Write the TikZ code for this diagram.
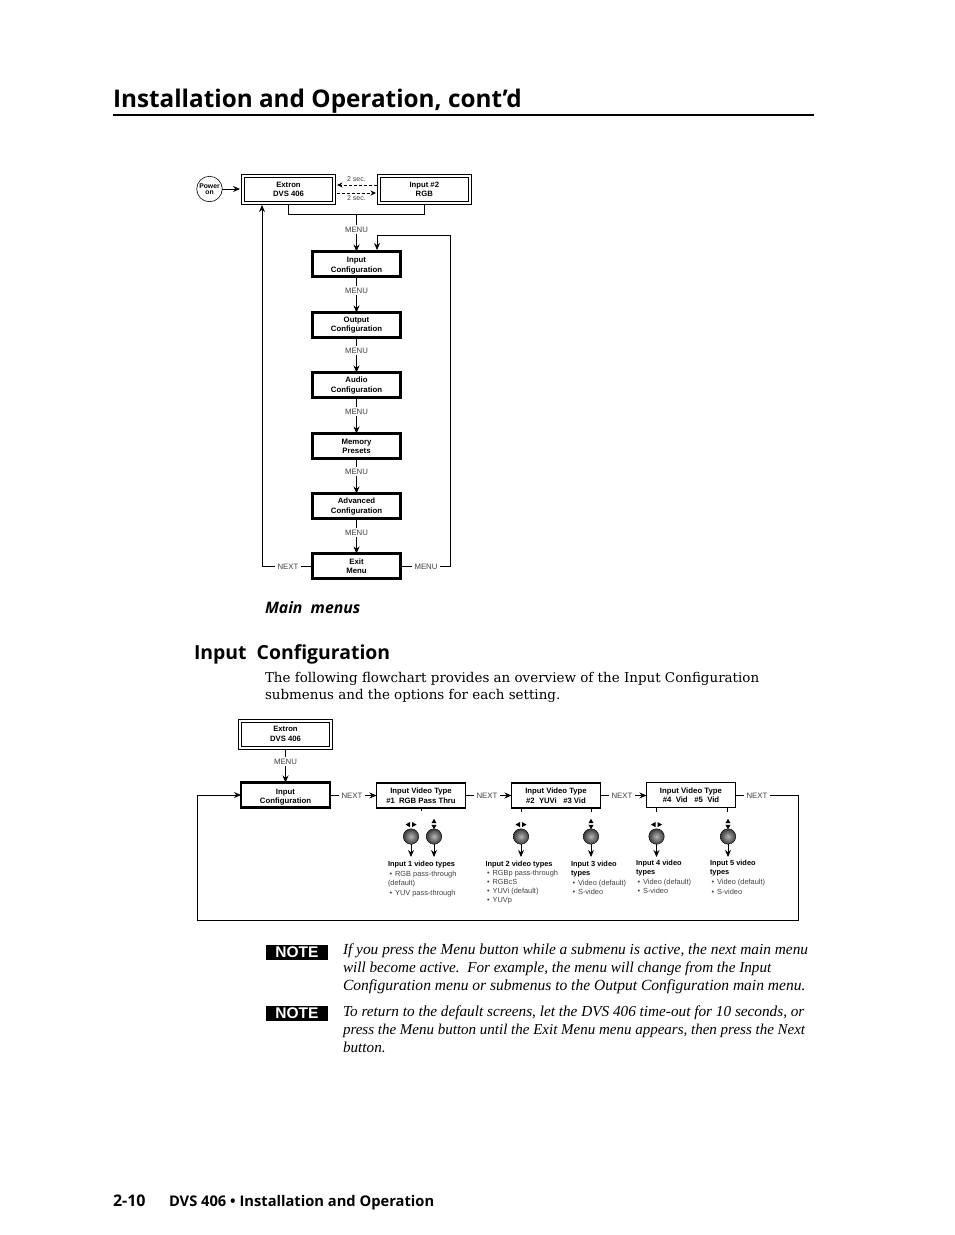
\documentclass[tikz,border=0pt]{standalone}
\usepackage{fontspec}
\setmainfont{Liberation Sans}
\newfontfamily\hfont{Open Sans}
\newfontfamily\bfontserif{DejaVu Serif}
\newfontfamily\ifontserif{Liberation Serif}
\usetikzlibrary{arrows.meta}
\definecolor{txt}{gray}{0.25}
\newcommand{\fs}[1]{\fontsize{#1pt}{#1pt}\selectfont}
\newcommand{\bul}{\hspace{1.5pt}•\hspace{3pt}}
\newcommand{\up}{\rule{0pt}{8pt}}
\tikzset{
 x=1pt,y=-1pt,
 every node/.style={inner sep=0pt,outer sep=0pt},
 line/.style={line width=0.9pt,black},
 arr/.style={line width=0.9pt,black,-{Stealth[length=7pt,width=6pt]}},
 dasharr/.style={line width=0.8pt,dash pattern=on 3pt off 2pt,-{Stealth[length=5.5pt,width=5pt]}},
 thickbox/.style={draw,line width=2.4pt,minimum width=88pt,minimum height=25pt,align=center,font=\fs{7.8}\bfseries},
 thinbox/.style={draw,line width=1.1pt,minimum width=89pt,minimum height=25pt,align=center,font=\fs{7.7}\bfseries},
 dblbox/.style={draw,line width=0.8pt,minimum width=88pt,minimum height=24pt,align=center,font=\fs{7.7}\bfseries},
 outerbox/.style={line width=0.8pt},
 lbl/.style={font=\fs{7.8},text=txt,inner sep=1.5pt,fill=white},
 sec/.style={font=\fs{7},text=txt},
 knob/.style={circle,draw=black,line width=0.4pt,minimum size=15.5pt,inner color=gray!58,outer color=gray!45!black},
 tick/.style={line width=0.9pt},
 h1/.style={anchor=base west,font=\hfont\fs{24.3}\bfseries},
 h2/.style={anchor=base west,font=\hfont\fs{19.4}\bfseries},
 body/.style={anchor=base west,font=\bfontserif\fs{13.45}},
 ital/.style={anchor=base west,font=\ifontserif\itshape\fs{#1}},
 foot/.style={anchor=base west,font=\hfont\fs{14.7}\bfseries},
 notebox/.style={fill=black,text=white,minimum width=62pt,minimum height=15pt,font=\fs{15.5}\bfseries},
 thead/.style={anchor=base west,font=\fs{7.4}\bfseries},
 titem/.style={anchor=base west,font=\fs{7.4},text=txt},
}
\begin{document}
\begin{tikzpicture}
\useasboundingbox (0,0) rectangle (954,1235);
% header
\node[h1] (title) at (113,107) {Installation and Operation, cont’d};
\coordinate (ruleL) at (113,115); \coordinate (ruleR) at (814,115);
\draw[line width=2pt] (ruleL) -- (ruleR);

% top flow
\node[circle,draw,line width=0.6pt,minimum size=25.5pt,align=center,font=\fs{6.8}\bfseries] (power) at (209.5,189) {Power\\[-0.5pt]on};
\node[dblbox] (extron) at (288.5,189.3) {Extron\\[1.6pt]DVS 406};
\draw[outerbox] ([shift={(-3,-3)}]extron.north west) rectangle ([shift={(3,3)}]extron.south east);
\node[dblbox] (input2) at (424.3,189.3) {Input \#2\\[1.6pt]RGB};
\draw[outerbox] ([shift={(-3,-3)}]input2.north west) rectangle ([shift={(3,3)}]input2.south east);
\draw[arr] (power) -- (240,189);
\coordinate (d1a) at (377,185); \coordinate (d1b) at (337,185);
\coordinate (d2a) at (336.5,193); \coordinate (d2b) at (376,193);
\draw[dasharr] (d1a) -- (d1b);
\draw[dasharr] (d2a) -- (d2b);
\node[sec] (s1) at (356.5,179.5) {2 sec.};
\node[sec] (s2) at (356.5,198) {2 sec.};
\coordinate (br) at (356.5,214);
\draw[line] (288.5,204.5) |- (424.3,214) -- (424.3,204.5);
\node[lbl] (m0) at (356.5,229.5) {MENU};
\draw[line] (br) -- (m0);
\node[thickbox] (b1) at (356.5,264) {\up Input\\[2.2pt]Configuration};
\node[thickbox] (b2) at (356.5,325) {Output\\[1pt]Configuration};
\node[thickbox] (b3) at (356.5,385) {Audio\\[2.2pt]Configuration};
\node[thickbox] (b4) at (356.5,446) {Memory\\[1pt]Presets};
\node[thickbox] (b5) at (356.5,506) {Advanced\\[2.2pt]Configuration};
\node[thickbox] (b6) at (356.5,566) {Exit\\[1pt]Menu};
\draw[arr] (m0) -- (b1);
\foreach \a/\b/\y/\n in {b1/b2/290.5/m1,b2/b3/350.5/m2,b3/b4/411.5/m3,b4/b5/471.5/m4,b5/b6/532.5/m5}{
  \node[lbl] (\n) at (356.5,\y) {MENU};
  \draw[line] (\a) -- (\n);
  \draw[arr] (\n) -- (\b);
}
\node[lbl,inner sep=3pt] (nx) at (288,566.5) {NEXT};
\node[lbl,inner sep=3pt] (mn) at (426,566.5) {MENU};
\draw[line] (b6.west|-nx) -- (nx);
\draw[arr] (nx) -| (262,205);
\draw[line] (b6.east|-mn) -- (mn);
\coordinate (loopR) at (450,235);
\draw[line] (mn) -| (loopR);
\draw[arr] (loopR) -| (377,250);

\node[anchor=base west,font=\hfont\bfseries\itshape\fs{15.8}] (mm) at (265,613) {Main\ \ menus};
\node[h2] (h) at (194,659) {Input\ \ Configuration};
\node[body] (p1) at (265,682) {The following flowchart provides an overview of the Input Configuration};
\node[body] (p2) at (265,699.5) {submenus and the options for each setting.};

% lower flow
\node[dblbox] (ex2) at (285.5,734) {Extron\\[1.6pt]DVS 406};
\draw[outerbox] ([shift={(-3,-3)}]ex2.north west) rectangle ([shift={(3,3)}]ex2.south east);
\node[lbl] (lm) at (285.5,761.5) {MENU};
\node[thickbox,minimum width=89pt] (ic) at (285.5,795) {\rule{0pt}{9pt}Input\\[1.2pt]Configuration};
\draw[line] (285.5,749) -- (lm);
\draw[arr] (lm) -- (ic);
\node[thinbox] (t1) at (421,795.5) {Input Video Type\\[1.8pt]\#1\ \ RGB Pass Thru};
\node[thinbox] (t2) at (556,795.5) {Input Video Type\\[1.8pt]\#2\ \ YUVi\ \ \ \#3 Vid};
\node[thickbox,line width=1.4pt,minimum width=89pt] (t3) at (691,795) {Input Video Type\\[1.8pt]\#4\ \ Vid\ \ \ \#5\ \ Vid};
\node[lbl,inner sep=3pt] (n1) at (352,795.5) {NEXT};
\node[lbl,inner sep=3pt] (n2) at (487,795.5) {NEXT};
\node[lbl,inner sep=3pt] (n3) at (622,795.5) {NEXT};
\node[lbl,inner sep=3pt] (n4) at (757,795.5) {NEXT};
\draw[line] (ic.east|-n1) -- (n1); \draw[arr] (n1) -- (t1.west|-n1);
\draw[line] (t1.east|-n2) -- (n2); \draw[arr] (n2) -- (t2.west|-n2);
\draw[line] (t2.east|-n3) -- (n3); \draw[arr] (n3) -- (t3.west|-n3);
\draw[line] (t3.east|-n4) -- (n4);
\coordinate (lr) at (798,920.5); \coordinate (ll) at (197,920.5);
\draw[line] (n4) -| (lr) -- (ll);
\draw[arr] (ll) |- (ic);

\foreach \name/\x in {k1/411,k2/434,k3/521,k4/591,k5/656.5,k6/728}{
  \node[knob] (\name) at (\x,836.5) {};
  \coordinate (\name d) at (\x,857);
  \draw[arr] (\name) -- (\name d);
}
\foreach \x in {411,521,656.5}{
  \fill (\x-1,822) -- (\x-1,827.2) -- (\x-5.5,824.6) -- cycle;
  \fill (\x+1,822) -- (\x+1,827.2) -- (\x+5.5,824.6) -- cycle;
}
\foreach \x in {434,591,728}{
  \fill (\x-2.6,823.2) -- (\x+2.6,823.2) -- (\x,818.8) -- cycle;
  \fill (\x-2.6,824.8) -- (\x+2.6,824.8) -- (\x,829.2) -- cycle;
}
\draw[tick] (421,808) -- (421,811);
\draw[tick] (521,808) -- (521,812);
\draw[tick] (591,808) -- (591,812);
\draw[tick] (656,808) -- (656,812);
\draw[tick] (727,808) -- (727,812);

\node[thead] (a0) at (388,866) {Input 1 video types};
\node[titem] (a1) at (388,876) {\bul RGB pass-through};
\node[titem] (a2) at (388,885.5) {(default)};
\node[titem] (a3) at (388,895) {\bul YUV pass-through};

\node[thead] (b0) at (485.5,866) {Input 2 video types};
\node[titem] (bb1) at (485.5,875.5) {\bul RGBp pass-through};
\node[titem] (bb2) at (485.5,884.5) {\bul RGBcS};
\node[titem] (bb3) at (485.5,893.5) {\bul YUVi (default)};
\node[titem] (bb4) at (485.5,902.5) {\bul YUVp};

\node[thead] (c0) at (571,866) {Input 3 video};
\node[thead] (c1) at (571,875.5) {types};
\node[titem] (c2) at (571,885.5) {\bul Video (default)};
\node[titem] (c3) at (571,894.5) {\bul S-video};

\node[thead] (d0) at (636,865) {Input 4 video};
\node[thead] (d1) at (636,874.5) {types};
\node[titem] (d2) at (636,884) {\bul Video (default)};
\node[titem] (d3) at (636,893) {\bul S-video};

\node[thead] (e0) at (710,865) {Input 5 video};
\node[thead] (e1) at (710,874.5) {types};
\node[titem] (e2) at (710,884) {\bul Video (default)};
\node[titem] (e3) at (710,894) {\bul S-video};

% notes
\node[notebox] (note1) at (297,952.5) {NOTE};
\node[notebox] (note2) at (297,1013.5) {NOTE};
\node[ital=15.37] (i1) at (343,954) {If you press the Menu button while a submenu is active, the next main menu};
\node[ital=15.17] (i2) at (343,972) {will become active.\ \ For example, the menu will change from the Input};
\node[ital=15.53] (i3) at (343,990) {Configuration menu or submenus to the Output Configuration main menu.};
\node[ital=15.24] (i4) at (343,1016) {To return to the default screens, let the DVS 406 time-out for 10 seconds, or};
\node[ital=15] (i5) at (343,1034) {press the Menu button until the Exit Menu menu appears, then press the Next};
\node[ital=15.2] (i6) at (343,1052) {button.};

% footer
\node[foot,font=\hfont\fs{16}\bfseries] (f1) at (113,1206) {2-10};
\node[foot] (f2) at (169,1206) {DVS 406 • Installation and Operation};
\end{tikzpicture}
\end{document}
